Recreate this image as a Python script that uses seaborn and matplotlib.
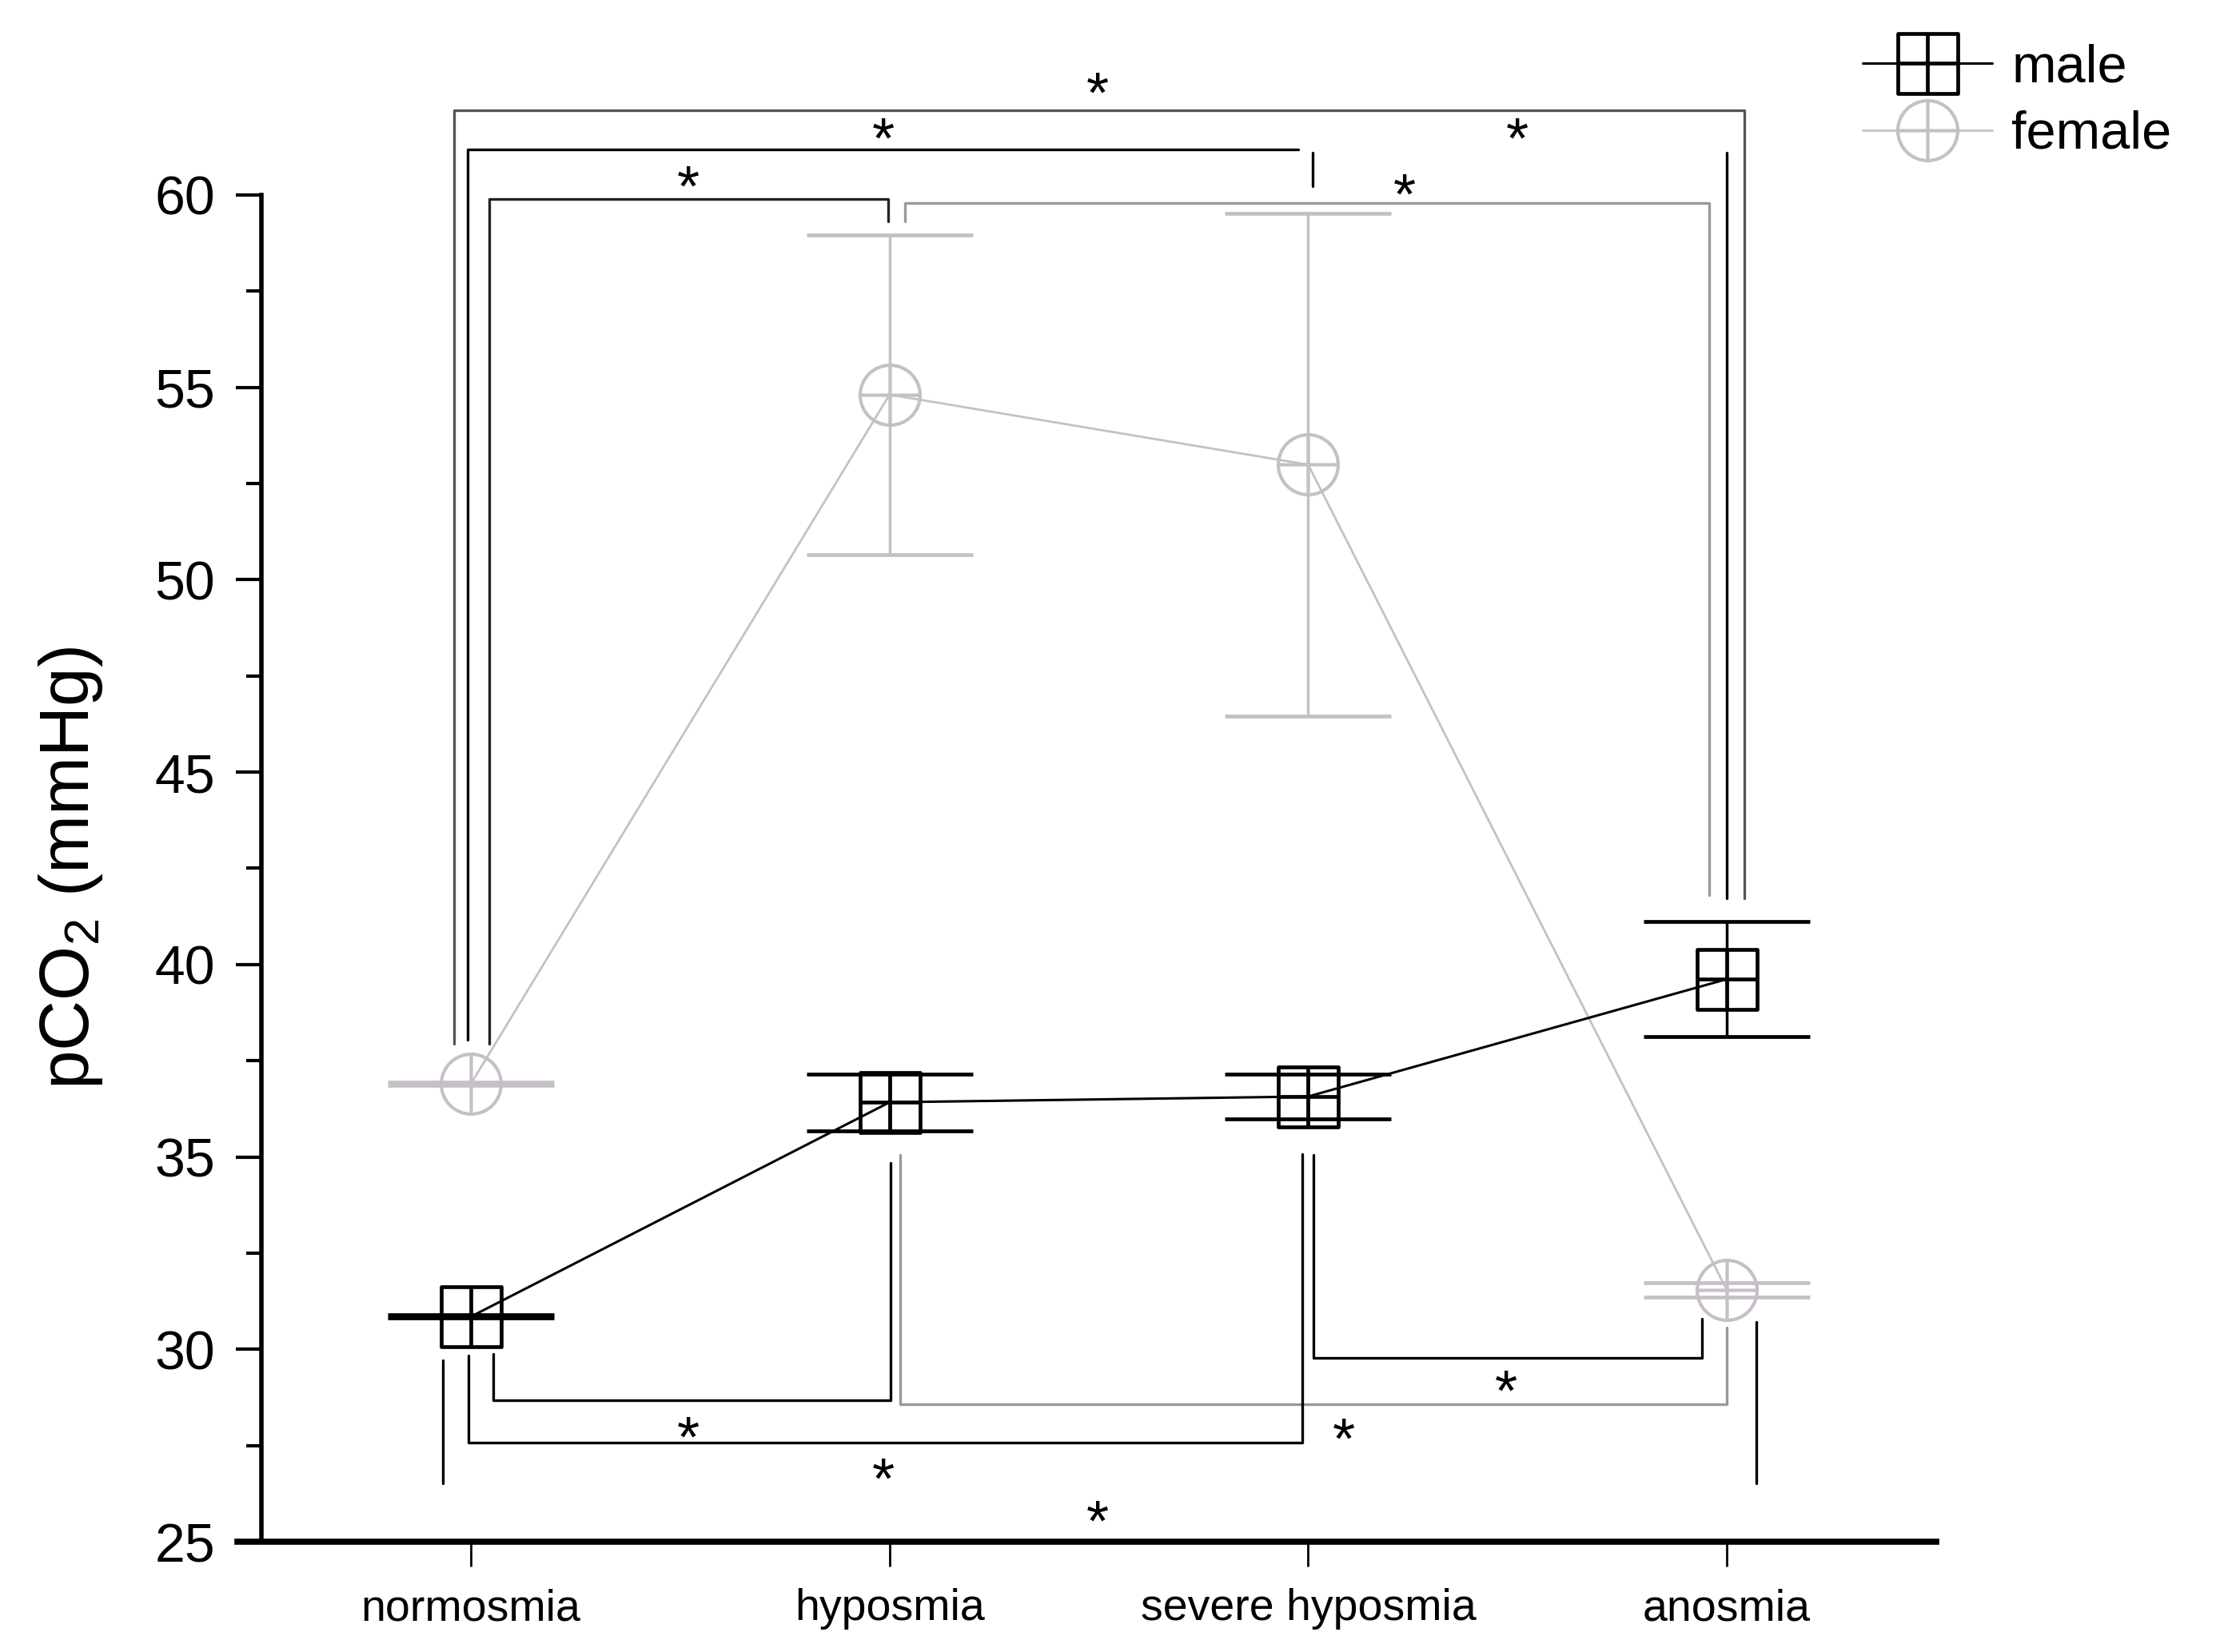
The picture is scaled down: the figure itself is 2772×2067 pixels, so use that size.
import numpy as np
import pandas as pd
import seaborn as sns
import matplotlib.pyplot as plt
from matplotlib.path import Path
from matplotlib.ticker import MultipleLocator

# values (mean and SD, mmHg)
groups = ["normosmia", "hyposmia", "severe hyposmia", "anosmia"]
male_mean = [30.85, 36.42, 36.57, 39.62]
male_sd = [0.04, 0.74, 0.59, 1.50]
female_mean = [36.90, 54.81, 52.99, 31.54]
female_sd = [0.04, 4.15, 6.53, 0.18]
yticks = [25, 30, 35, 40, 45, 50, 55, 60]

# significance brackets as polylines (x in category units, y in mmHg) + colour
brackets = [
    ([-0.040, -0.040, 3.042, 3.042], [37.94, 62.20, 62.20, 41.72], "#555555"),
    ([-0.008, -0.008, 1.976], [38.04, 61.18, 61.18], "black"),
    ([2.010, 2.010], [61.10, 60.23], "black"),
    ([3.000, 3.000], [61.10, 41.72], "black"),
    ([0.044, 0.044, 0.997, 0.997], [37.94, 59.90, 59.90, 59.32], "#222222"),
    ([1.037, 1.037, 2.958, 2.958], [59.32, 59.79, 59.79, 41.80], "#999999"),
    ([0.053, 0.053, 1.002, 1.002], [29.88, 28.68, 28.68, 34.85], "black"),
    ([1.026, 1.026, 3.000, 3.000], [35.05, 28.57, 28.57, 30.57], "#999999"),
    ([2.013, 2.013, 2.940, 2.940], [35.06, 29.78, 29.78, 30.80], "black"),
    ([-0.006, -0.006, 1.985, 1.985], [29.84, 27.58, 27.58, 35.07], "black"),
    ([-0.067, -0.067], [29.72, 26.52], "black"),
    ([3.070, 3.070], [30.71, 26.52], "black"),
]
star_x = [1.497, 0.986, 2.500, 0.520, 2.230, 0.520, 2.085, 2.473, 0.986, 1.496]
star_y = [62.89, 61.69, 61.69, 60.46, 60.25, 27.95, 27.91, 29.15, 26.87, 25.77]

sns.set_theme(style="ticks")
plt.rcParams["font.family"] = ["Liberation Sans", "DejaVu Sans"]
plt.rcParams["mathtext.default"] = "regular"
for key in ["text.color", "axes.labelcolor", "axes.edgecolor", "xtick.color", "ytick.color"]:
    plt.rcParams[key] = "black"

pos = np.arange(len(groups))
df = pd.DataFrame({
    "pos": np.concatenate([pos, pos]),
    "value": male_mean + female_mean,
    "sd": male_sd + female_sd,
    "sex": ["male"] * 4 + ["female"] * 4,
})

# open square / open circle with a cross inside
cross = Path([(0, -1), (0, 1), (-1, 0), (1, 0)],
             [Path.MOVETO, Path.LINETO, Path.MOVETO, Path.LINETO])
square = Path([(-1, -1), (1, -1), (1, 1), (-1, 1), (-1, -1)],
              [Path.MOVETO, Path.LINETO, Path.LINETO, Path.LINETO, Path.CLOSEPOLY])
sq_marker = Path.make_compound_path(square, cross)
ci_marker = Path.make_compound_path(Path.unit_circle(), cross)

styles = {
    "female": dict(color="#c6bfc7", marker=ci_marker, lw=2.0, mew=3.0),
    "male": dict(color="black", marker=sq_marker, lw=2.2, mew=3.4),
}

fig = plt.figure(figsize=(27.72, 20.67), dpi=100)
ax = fig.add_axes([0.1071, 0.06676, 0.8737 - 0.1071, 0.8820 - 0.06676])

handles = {}
for sex in ["female", "male"]:
    st = styles[sex]
    sub = df[df["sex"] == sex]
    ax.errorbar(sub["pos"], sub["value"], yerr=sub["sd"], fmt="none",
                ecolor=st["color"], elinewidth=2.5, capsize=75, capthick=3.4, zorder=2)
    sns.lineplot(data=sub, x="pos", y="value", ax=ax, color=st["color"],
                 marker=st["marker"], markersize=54, markerfacecolor="none",
                 markeredgecolor=st["color"], markeredgewidth=st["mew"],
                 linewidth=st["lw"], errorbar=None, label=sex, zorder=3)
    handles[sex] = ax.get_lines()[-1]

for xs, ys, c in brackets:
    ax.plot(xs, ys, color=c, lw=2.4, clip_on=False, zorder=1)

star_fs = 52
for x, y in zip(star_x, star_y):
    ax.annotate("*", (x, y), xytext=(0, -0.49 * star_fs), textcoords="offset points",
                ha="center", va="baseline", fontsize=star_fs, annotation_clip=False)

ax.set_xlim(-0.558, 3.5)
ax.set_ylim(25, 60)
ax.set_xticks(pos)
ax.set_xticklabels(groups)
ax.set_yticks(yticks)
ax.yaxis.set_minor_locator(MultipleLocator(2.5))
ax.set_xlabel("")
ax.set_ylabel("pCO$_2$ (mmHg)", fontsize=63)
ax.yaxis.set_label_coords(-0.078, 0.5)

sns.despine(ax=ax)
ax.spines["left"].set_position(("data", -0.5))
ax.spines["left"].set_linewidth(4)
ax.spines["bottom"].set_linewidth(5.5)
ax.tick_params(axis="y", which="major", direction="out", length=23, width=3,
               labelsize=49, pad=19)
ax.tick_params(axis="y", which="minor", direction="out", length=14, width=3, left=True)
ax.tick_params(axis="x", which="major", direction="out", length=22, width=2,
               labelsize=40, pad=20)
ax.tick_params(axis="x", which="minor", bottom=False)

ax.legend(handles=[handles["male"], handles["female"]], labels=["male", "female"],
          loc="upper left", bbox_to_anchor=(0.8406, 0.9736), bbox_transform=fig.transFigure,
          frameon=False, fontsize=48, handlelength=2.43, handletextpad=0.36,
          labelspacing=0.32, borderpad=0, borderaxespad=0, numpoints=1)

fig.savefig("out.png", dpi=100, facecolor="white")
